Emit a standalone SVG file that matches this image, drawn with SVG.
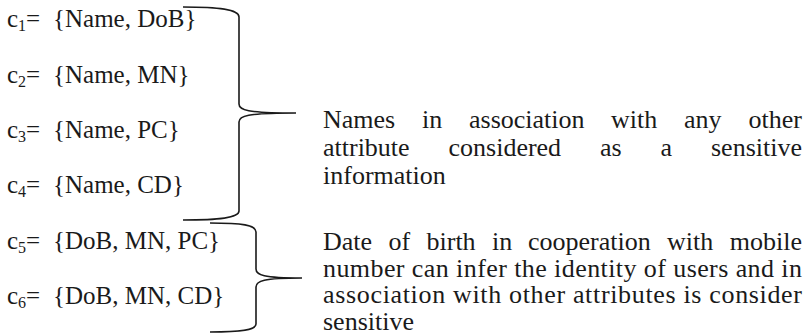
<svg xmlns="http://www.w3.org/2000/svg" width="807" height="336" viewBox="0 0 807 336">
<style>
text{font-family:"Liberation Serif","Times New Roman",serif;font-size:25px;fill:#1a1a1a}
.sub{font-size:16px}
.note text{font-size:26px}
.brace{fill:none;stroke:#1a1a1a;stroke-width:1.6}
</style>
<rect width="807" height="336" fill="#fff"/>
<g id="sets">
<text x="7" y="27">c<tspan class="sub" dy="4">1</tspan><tspan dy="-4">=</tspan><tspan x="53">{Name, DoB}</tspan></text>
<text x="7" y="82.5">c<tspan class="sub" dy="4">2</tspan><tspan dy="-4">=</tspan><tspan x="53">{Name, MN}</tspan></text>
<text x="7" y="137.5">c<tspan class="sub" dy="4">3</tspan><tspan dy="-4">=</tspan><tspan x="53">{Name, PC}</tspan></text>
<text x="7" y="193">c<tspan class="sub" dy="4">4</tspan><tspan dy="-4">=</tspan><tspan x="53">{Name, CD}</tspan></text>
<text x="7" y="248.5">c<tspan class="sub" dy="4">5</tspan><tspan dy="-4">=</tspan><tspan x="53">{DoB, MN, PC}</tspan></text>
<text x="7" y="303.5">c<tspan class="sub" dy="4">6</tspan><tspan dy="-4">=</tspan><tspan x="53">{DoB, MN, CD}</tspan></text>
</g>
<g id="connectors">
<path class="brace" d="M183,7 C218,7 239,9 239,17 L239,104 C239,110 246,113 296,113 C246,113 239,116 239,122 L239,211 C239,218 218,220 183,220"/>
<path class="brace" d="M210,223 C242,223 256,225 256,232 L256,269 C256,275 263,278 302,278 C263,278 256,281 256,287 L256,324 C256,330 242,332 210,332"/>
</g>
<g id="note1" class="note">
<text y="128"><tspan x="323">Names</tspan><tspan x="422">in</tspan><tspan x="469">association</tspan><tspan x="611">with</tspan><tspan x="684">any</tspan><tspan x="802" text-anchor="end">other</tspan></text>
<text y="156"><tspan x="323">attribute</tspan><tspan x="448.5">considered</tspan><tspan x="600">as</tspan><tspan x="660.5">a</tspan><tspan x="802" text-anchor="end">sensitive</tspan></text>
<text x="323" y="184">information</text>
</g>
<g id="note2" class="note">
<text y="250"><tspan x="323">Date</tspan><tspan x="388.5">of</tspan><tspan x="426.5">birth</tspan><tspan x="492">in</tspan><tspan x="528">cooperation</tspan><tspan x="667">with</tspan><tspan x="802" text-anchor="end">mobile</tspan></text>
<text x="323" y="276.5" textLength="479" lengthAdjust="spacing">number can infer the identity of users and in</text>
<text x="323" y="303" textLength="479" lengthAdjust="spacing">association with other attributes is consider</text>
<text x="323" y="329.5">sensitive</text>
</g>
</svg>
